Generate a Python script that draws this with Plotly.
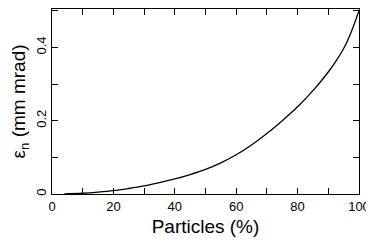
import plotly.graph_objects as go

particles = [4, 10, 15, 20, 25, 30, 35, 40, 45, 50, 55, 60, 65, 70, 75, 80, 85, 90, 92.5, 95, 97.5, 100]
emittance = [0.0, 0.002, 0.005, 0.009, 0.015, 0.022, 0.031, 0.041, 0.053, 0.067, 0.085, 0.107,
             0.134, 0.165, 0.200, 0.238, 0.282, 0.333, 0.363, 0.397, 0.443, 0.500]

x_tickvals = [0, 10, 20, 30, 40, 50, 60, 70, 80, 90, 100]
x_ticktext = ["0", "", "20", "", "40", "", "60", "", "80", "", "100"]
y_tickvals = [0, 0.1, 0.2, 0.3, 0.4, 0.5]
y_ticktext = ["0", "", "0.2", "", "0.4", ""]

fig = go.Figure()
fig.add_trace(go.Scatter(x=particles, y=emittance, mode="lines",
                         line=dict(color="black", width=1.3, shape="spline", smoothing=1.0),
                         showlegend=False, hoverinfo="skip"))

axis_common = dict(showline=True, linecolor="black", linewidth=1.2, mirror="ticks",
                   ticks="inside", ticklen=6, tickwidth=1, tickcolor="black",
                   showgrid=False, zeroline=False, automargin=False,
                   tickfont=dict(family="Liberation Sans, Arial", size=13, color="black"))

fig.update_xaxes(range=[0, 100], tickmode="array", tickvals=x_tickvals, ticktext=x_ticktext,
                 title=dict(text="Particles (%)", font=dict(family="Liberation Sans, Arial", size=19, color="black"),
                            standoff=6),
                 **axis_common)
fig.update_yaxes(range=[0, 0.505], tickmode="array", tickvals=y_tickvals, ticktext=y_ticktext,
                 tickangle=-90,
                 title=dict(text="ε<sub>n</sub> (mm mrad)", font=dict(family="Liberation Sans, Arial", size=19, color="black"),
                            standoff=8),
                 **axis_common)

# page body has an 8px margin, so the figure is offset by (8, 8)
fig.update_layout(width=366, height=236, margin=dict(l=44, r=15, t=1, b=50),
                  plot_bgcolor="white", paper_bgcolor="white")

fig.write_html("out.html")
